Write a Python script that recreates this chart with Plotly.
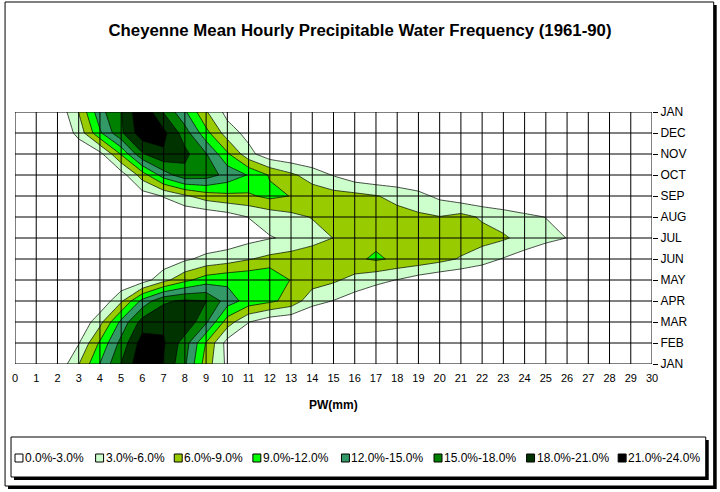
import plotly.graph_objects as go

# ---------------- data ----------------
pw_mm = list(range(31))
month_labels = ["JAN", "FEB", "MAR", "APR", "MAY", "JUN", "JUL",
                "AUG", "SEP", "OCT", "NOV", "DEC", "JAN"]

# frequency (%) at each PW (0..30 mm) for each month row, bottom JAN .. top JAN
jan_start = [0, 0, 0.5, 5.9, 12.1, 18.1, 23.5, 20.8, 15.5, 7.5, 2.3, 0.8,
             0, 0, 0, 0, 0, 0, 0, 0, 0, 0, 0, 0, 0, 0, 0, 0, 0, 0, 0]
feb = [0, 0, 0.5, 2.8, 9.5, 16, 22.5, 21.3, 16.5, 8.8, 1.8, 0.5,
       0, 0, 0, 0, 0, 0, 0, 0, 0, 0, 0, 0, 0, 0, 0, 0, 0, 0, 0]
mar = [0, 0, 0, 0.3, 5, 12.8, 19.3, 20.5, 20.5, 15.5, 7.5, 3.1, 1, 0.3,
       0, 0, 0, 0, 0, 0, 0, 0, 0, 0, 0, 0, 0, 0, 0, 0, 0]
apr = [0, 0, 0, 0, 0.5, 5.5, 13, 17.5, 18.5, 18.1, 13.5, 10.8, 9.6, 8, 4, 2.9, 1.5, 0.5,
       0, 0, 0, 0, 0, 0, 0, 0, 0, 0, 0, 0, 0]
may = [0, 0, 0, 0, 0, 0.3, 1.5, 5, 8.2, 10.5, 11.3, 11.5, 12.05, 8.8, 7.5, 6.5, 5, 3.8, 2.9, 1.5, 0.5,
       0, 0, 0, 0, 0, 0, 0, 0, 0, 0]
jun = [0, 0, 0, 0, 0, 0, 0.3, 1, 2.5, 3.8, 4.6, 5.8, 6.8, 7.5, 8, 8.2, 8.5, 9.4, 8.5, 8.0,
       7.0, 5.7, 4.2, 2.8, 1.5, 0.5, 0, 0, 0, 0, 0]
jul = [0, 0, 0, 0, 0, 0, 0, 0, 0.3, 0.6, 1, 2, 2.85, 3.4, 4.8, 6.05, 7.2, 8.3, 8.6, 8.8,
       8.3, 7.8, 7.2, 6.4, 5.0, 3.8, 2.95, 0.8, 0.2, 0, 0]
aug = [0, 0, 0, 0, 0, 0, 0, 0, 0.2, 0.5, 1.5, 3.05, 4.0, 5.2, 6.15, 7, 7.8, 7.6, 7.0, 6.6,
       6.1, 7.0, 5.6, 4.6, 3.6, 2.95, 1.2, 0.3, 0, 0, 0]
sep = [0, 0, 0, 0, 0, 0.3, 1.5, 3.2, 5.5, 7.5, 8.3, 8.5, 9.8, 8.9, 7.8, 7.2, 6.9, 6.15, 5.2, 3.9,
       2.3, 1.0, 0.3, 0, 0, 0, 0, 0, 0, 0, 0]
oct_ = [0, 0, 0, 0, 0, 1.5, 7.5, 13.5, 17, 16.5, 14, 11.8, 8.7, 6.6, 4.6, 2.8, 1, 0.3,
        0, 0, 0, 0, 0, 0, 0, 0, 0, 0, 0, 0, 0]
nov = [0, 0, 0, 0.5, 2, 9.3, 17.7, 20.6, 18.8, 15.2, 9.5, 4, 1, 0.3,
       0, 0, 0, 0, 0, 0, 0, 0, 0, 0, 0, 0, 0, 0, 0, 0, 0]
dec = [0, 0, 0, 4, 11.5, 17.5, 22.9, 21.8, 16.5, 10, 4.5, 2, 0.5,
       0, 0, 0, 0, 0, 0, 0, 0, 0, 0, 0, 0, 0, 0, 0, 0, 0, 0]
jan_end = [0, 0, 0.5, 6.1, 14, 17.8, 23.8, 17.8, 12.5, 6.3, 2, 0.5,
           0, 0, 0, 0, 0, 0, 0, 0, 0, 0, 0, 0, 0, 0, 0, 0, 0, 0, 0]

band_labels = ["0.0%-3.0%", "3.0%-6.0%", "6.0%-9.0%", "9.0%-12.0%",
               "12.0%-15.0%", "15.0%-18.0%", "18.0%-21.0%", "21.0%-24.0%"]
band_colors = ["#FFFFFF", "#CCFFCC", "#99CC00", "#00FF00",
               "#339966", "#008000", "#003300", "#000000"]

# ---------------- layout constants (pixels) ----------------
W, H = 720, 492
PL, PR, PT, PB = 12, 652, 112, 364          # plot area edges


def px2x(px):
    return (px - PL) / (PR - PL)


def py2y(py):
    return (PB - py) / (PB - PT)


z = [jan_start, feb, mar, apr, may, jun, jul, aug, sep, oct_, nov, dec, jan_end]
row_idx = list(range(len(month_labels)))

fig = go.Figure()
fig.add_trace(go.Contour(
    x=pw_mm, y=row_idx, z=z,
    autocontour=False,
    contours=dict(start=3, end=21, size=3, coloring="fill", showlines=True),
    colorscale=[[i / (len(band_colors) - 1), c] for i, c in enumerate(band_colors)],
    showscale=False,
    line=dict(color="#000000", width=0.7, smoothing=0),
    hoverinfo="skip",
))

shapes = []
# grid drawn above the filled contours
for v in pw_mm:
    shapes.append(dict(type="line", xref="x", yref="y", x0=v, x1=v, y0=0, y1=12,
                       line=dict(color="#000000", width=1), layer="above"))
for r in row_idx:
    shapes.append(dict(type="line", xref="x", yref="y", x0=0, x1=30, y0=r, y1=r,
                       line=dict(color="#000000", width=1), layer="above"))

# outer chart frame with shadow
shapes.append(dict(type="rect", xref="paper", yref="paper",
                   x0=px2x(5), x1=px2x(717), y0=py2y(489), y1=py2y(5),
                   fillcolor="#000000", line=dict(width=0), layer="below"))
shapes.append(dict(type="rect", xref="paper", yref="paper",
                   x0=px2x(2), x1=px2x(714), y0=py2y(486), y1=py2y(2),
                   fillcolor="#FFFFFF", line=dict(color="#000000", width=1), layer="below"))

# legend box with shadow
LX0, LX1, LY0, LY1 = 8, 706, 437, 477
shapes.append(dict(type="rect", xref="paper", yref="paper",
                   x0=px2x(LX0 + 3), x1=px2x(LX1 + 3), y0=py2y(LY1 + 3), y1=py2y(LY0 + 3),
                   fillcolor="#000000", line=dict(width=0), layer="above"))
shapes.append(dict(type="rect", xref="paper", yref="paper",
                   x0=px2x(LX0), x1=px2x(LX1), y0=py2y(LY1), y1=py2y(LY0),
                   fillcolor="#FFFFFF", line=dict(color="#000000", width=1), layer="above"))

annotations = []
legend_x = [12, 93, 172, 251, 340, 433, 526, 618]
LYC = 458
for lx, lab, col in zip(legend_x, band_labels, band_colors):
    shapes.append(dict(type="rect", xref="paper", yref="paper",
                       x0=px2x(lx), x1=px2x(lx + 8), y0=py2y(LYC + 4), y1=py2y(LYC - 4),
                       fillcolor=col, line=dict(color="#000000", width=1), layer="above"))
    annotations.append(dict(xref="paper", yref="paper", x=px2x(lx + 8), y=py2y(LYC),
                            xanchor="left", yanchor="middle", showarrow=False,
                            text=lab, font=dict(family="Arial", size=12, color="#000000")))

annotations.append(dict(xref="paper", yref="paper", x=px2x(332), y=py2y(405),
                        xanchor="center", yanchor="middle", showarrow=False,
                        text="<b>PW(mm)</b>", font=dict(family="Arial", size=12, color="#000000")))

fig.update_layout(
    width=W, height=H,
    margin=dict(l=PL, r=W - PR, t=PT, b=H - PB, pad=0),
    paper_bgcolor="#FFFFFF", plot_bgcolor="#FFFFFF",
    title=dict(text="<b>Cheyenne Mean Hourly Precipitable Water Frequency (1961-90)</b>",
               x=0.5, xanchor="center", y=1 - 30 / H, yanchor="middle",
               font=dict(family="Arial", size=16.8, color="#000000")),
    xaxis=dict(range=[0, 30], tickmode="array", tickvals=pw_mm,
               ticktext=[str(v) for v in pw_mm], showgrid=False, zeroline=False,
               ticks="outside", ticklen=4, tickcolor="rgba(0,0,0,0)",
               tickfont=dict(family="Arial", size=11, color="#000000"),
               showline=False),
    yaxis=dict(range=[0, 12], side="right", tickmode="array", tickvals=row_idx,
               ticktext=month_labels, showgrid=False, zeroline=False,
               ticks="outside", ticklen=5, tickcolor="#000000", tickwidth=1,
               tickfont=dict(family="Arial", size=12, color="#000000"),
               showline=False),
    shapes=shapes,
    annotations=annotations,
    showlegend=False,
)

fig.write_html("out.html")
